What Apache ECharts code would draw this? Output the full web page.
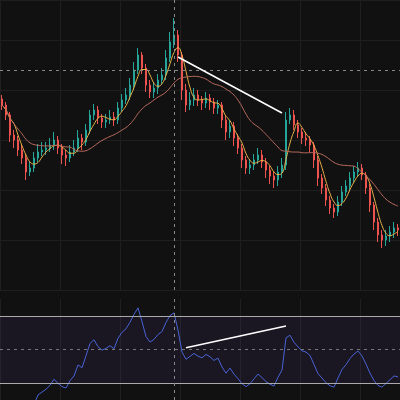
<!DOCTYPE html>
<html>
<head>
<meta charset="utf-8">
<script src="https://cdn.jsdelivr.net/npm/echarts@6/dist/echarts.min.js"></script>
<style>html,body{margin:0;background:#111111}#c{width:400px;height:400px}</style>
</head>
<body>
<div id="c"></div>
<script>
// closing prices (one candle every ~4px); each candle opens at the previous close
var firstOpen = 301;
var closes = [295,285,265,260,250,242,228,232,242,248,250,252,255,260,252,245,242,248,252,262,
  258,270,285,290,282,278,280,283,280,292,300,305,315,330,345,332,315,308,312,320,
  325,342,358,365,345,310,295,300,305,300,297,302,298,292,295,280,268,274,262,252,
  240,232,235,240,245,238,230,224,220,228,235,280,285,275,268,262,260,255,240,222,
  212,200,192,188,198,208,214,222,228,232,225,212,195,178,165,160,164,168,172,170];
var highs = [305,298,288,270,264,256,246,238,248,256,258,258,262,268,264,256,250,255,260,270,
  266,276,290,296,294,286,286,290,288,298,306,312,322,338,352,348,336,320,318,326,
  332,350,368,382,370,348,316,308,312,310,304,308,306,302,300,298,284,280,278,266,
  256,244,240,246,252,250,242,234,228,234,242,288,292,290,280,272,268,264,258,244,
  226,216,204,196,204,214,220,228,234,238,236,228,216,198,182,170,170,174,178,176];
var lows = [290,280,258,252,244,236,220,224,228,238,244,245,248,250,246,236,234,238,244,248,
  250,254,266,280,276,272,272,276,274,276,288,296,300,310,326,326,308,302,302,306,
  316,320,338,352,338,300,288,290,294,294,290,292,290,286,286,272,260,262,254,246,
  232,226,226,230,236,232,222,216,212,214,222,230,276,270,262,256,254,248,232,214,
  206,194,186,182,184,194,204,210,218,224,220,206,188,170,158,152,154,158,162,164];
var trendPrice = [[44, 343], [70, 287]];   // white line on price
var trendRsi = [[46, 51], [71, 64]];       // white line on RSI
var rsiLevels = [70, 50, 30];

var cats = [], candles = [];
for (var i = 0; i < closes.length; i++) {
  cats.push(i);
  candles.push([i ? closes[i - 1] : firstOpen, closes[i], lows[i], highs[i]]);
}
function ma(n) {
  var out = [];
  for (var i = 0; i < closes.length; i++) {
    var s = 0, k = 0;
    for (var j = Math.max(0, i - n + 1); j <= i; j++) { s += closes[j]; k++; }
    out.push(+(s / k).toFixed(2));
  }
  return out;
}
function rsi(n) {
  var out = ['-'], g = 0, l = 0;
  for (var i = 1; i < closes.length; i++) {
    var d = closes[i] - closes[i - 1];
    var up = d > 0 ? d : 0, dn = d < 0 ? -d : 0;
    if (i <= n) { g = (g * (i - 1) + up) / i; l = (l * (i - 1) + dn) / i; }
    else { g = (g * (n - 1) + up) / n; l = (l * (n - 1) + dn) / n; }
    out.push(l === 0 ? 80 : +(100 - 100 / (1 + g / l)).toFixed(2));
  }
  return out;
}

var chart = echarts.init(document.getElementById('c'));
chart.setOption({
  backgroundColor: '#111111',
  animation: false,
  grid: [{ left: 0, right: 0, top: 0, height: 290 }, { left: 0, right: 0, top: 299, height: 103 }],
  xAxis: [
    { type: 'category', data: cats, gridIndex: 0, boundaryGap: true, axisLine: { show: false }, axisTick: { show: false }, axisLabel: { show: false },
      splitLine: { show: true, interval: 14, lineStyle: { color: '#1f1f1f' } } },
    { type: 'category', data: cats, gridIndex: 1, boundaryGap: true, axisLine: { show: false }, axisTick: { show: false }, axisLabel: { show: false },
      splitLine: { show: true, interval: 14, lineStyle: { color: '#1f1f1f' } } }
  ],
  yAxis: [
    { gridIndex: 0, min: 110, max: 400, interval: 50, axisLine: { show: false }, axisLabel: { show: false },
      splitLine: { lineStyle: { color: '#1f1f1f' } } },
    { gridIndex: 1, min: 20, max: 80, axisLine: { show: false }, axisLabel: { show: false }, splitLine: { show: false } }
  ],
  series: [
    { type: 'candlestick', data: candles, barWidth: 2.2,
      itemStyle: { color: '#26a69a', color0: '#ef5350', borderColor: '#26a69a', borderColor0: '#ef5350' },
      markLine: { symbol: 'none', silent: true, label: { show: false },
        data: [
          { yAxis: 330, lineStyle: { color: '#888', type: [3, 4], width: 1 } },
          { xAxis: 43, lineStyle: { color: '#888', type: [3, 4], width: 1 } },
          [{ coord: trendPrice[0], lineStyle: { color: '#fff', type: 'solid', width: 1.5 } }, { coord: trendPrice[1] }]
        ] } },
    { type: 'line', data: ma(4), smooth: true, symbol: 'none', lineStyle: { color: '#e8b04a', width: 1 } },
    { type: 'line', data: ma(18), smooth: true, symbol: 'none', lineStyle: { color: '#b86a5c', width: 1 } },
    { type: 'line', xAxisIndex: 1, yAxisIndex: 1, data: rsi(14), symbol: 'none', lineStyle: { color: '#4a63d6', width: 1 },
      markArea: { silent: true, itemStyle: { color: 'rgba(110,80,200,0.10)' }, data: [[{ yAxis: 30 }, { yAxis: 70 }]] },
      markLine: { symbol: 'none', silent: true, label: { show: false },
        data: [
          { yAxis: rsiLevels[0], lineStyle: { color: '#aaa', type: 'solid', width: 1 } },
          { yAxis: rsiLevels[1], lineStyle: { color: '#777', type: [3, 4], width: 1 } },
          { yAxis: rsiLevels[2], lineStyle: { color: '#aaa', type: 'solid', width: 1 } },
          { xAxis: 43, lineStyle: { color: '#888', type: [3, 4], width: 1 } },
          [{ coord: trendRsi[0], lineStyle: { color: '#fff', type: 'solid', width: 1.5 } }, { coord: trendRsi[1] }]
        ] } }
  ]
});
</script>
</body>
</html>
